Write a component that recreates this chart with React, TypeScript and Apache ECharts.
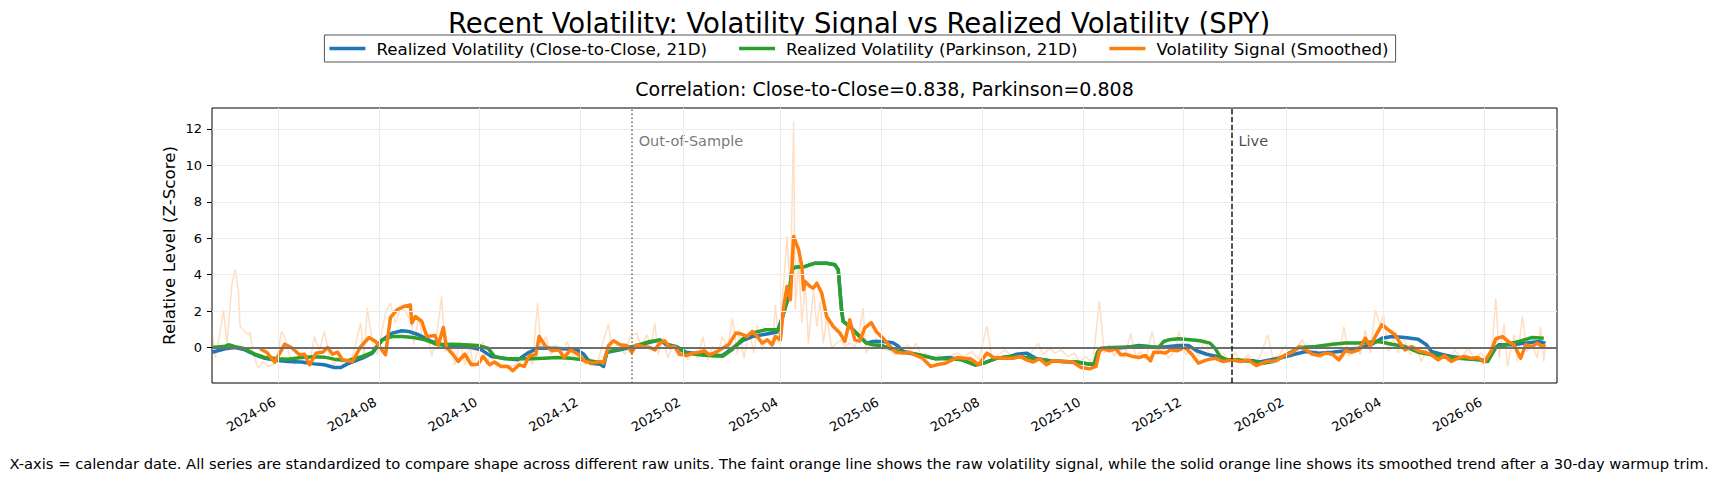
import React, { useEffect, useRef } from 'react';
import * as echarts from 'echarts';

const FONT = 'DejaVu Sans';
const BLUE = '#1f77b4';
const GREEN = '#2ca02c';
const ORANGE = '#ff7f0e';

const TITLE = 'Recent Volatility: Volatility Signal vs Realized Volatility (SPY)';
const SUBTITLE = 'Correlation: Close-to-Close=0.838, Parkinson=0.808';
const Y_LABEL = 'Relative Level (Z-Score)';
const FOOTNOTE =
  'X-axis = calendar date. All series are standardized to compare shape across different raw units. The faint orange line shows the raw volatility signal, while the solid orange line shows its smoothed trend after a 30-day warmup trim.';

const NAME_CC = 'Realized Volatility (Close-to-Close, 21D)';
const NAME_PK = 'Realized Volatility (Parkinson, 21D)';
const NAME_SM = 'Volatility Signal (Smoothed)';
const NAME_RAW = 'Volatility Signal (Raw)';

const X_MIN = '2024-04-22';
const X_MAX = '2026-07-15';
const Y_MIN = -1.95;
const Y_MAX = 13.15;

const X_TICKS = [
  '2024-06-01', '2024-08-01', '2024-10-01', '2024-12-01', '2025-02-01', '2025-04-01', '2025-06-01',
  '2025-08-01', '2025-10-01', '2025-12-01', '2026-02-01', '2026-04-01', '2026-06-01',
];
const Y_TICKS = [0, 2, 4, 6, 8, 10, 12];

const OOS_DATE = '2025-01-01';
const LIVE_DATE = '2025-12-30';
const MARK_LABEL_Y = 11.35;

// realized vol, close-to-close (z-score)
const closeToClose: [string, number][] = [
  ['2024-04-22', -0.26], ['2024-04-30', -0.07], ['2024-05-06', 0.0], ['2024-05-12', -0.13],
  ['2024-05-18', -0.4], ['2024-05-24', -0.59], ['2024-06-01', -0.71], ['2024-06-07', -0.77],
  ['2024-06-15', -0.8], ['2024-06-23', -0.9], ['2024-06-29', -0.95], ['2024-07-05', -1.1],
  ['2024-07-09', -1.1], ['2024-07-13', -0.9], ['2024-07-22', -0.59], ['2024-07-28', -0.31],
  ['2024-08-03', 0.42], ['2024-08-09', 0.79], ['2024-08-15', 0.92], ['2024-08-19', 0.88],
  ['2024-08-25', 0.7], ['2024-09-02', 0.33], ['2024-09-10', 0.11], ['2024-09-18', 0.05],
  ['2024-09-26', 0.0], ['2024-10-02', -0.13], ['2024-10-08', -0.49], ['2024-10-16', -0.59],
  ['2024-10-24', -0.68], ['2024-10-30', -0.31], ['2024-11-05', -0.04], ['2024-11-13', -0.04],
  ['2024-11-21', -0.07], ['2024-11-29', -0.13], ['2024-12-03', -0.37], ['2024-12-07', -0.86],
  ['2024-12-13', -0.92], ['2024-12-15', -1.04], ['2024-12-17', -0.26], ['2024-12-25', -0.13],
  ['2025-01-02', 0.05], ['2025-01-12', 0.29], ['2025-01-18', 0.42], ['2025-01-22', 0.15],
  ['2025-01-28', 0.05], ['2025-02-03', -0.26], ['2025-02-11', -0.37], ['2025-02-19', -0.44],
  ['2025-02-25', -0.44], ['2025-03-03', -0.04], ['2025-03-09', 0.37], ['2025-03-15', 0.6],
  ['2025-03-23', 0.73], ['2025-03-30', 0.85], ['2025-04-02', 1.61], ['2025-04-05', 2.53],
  ['2025-04-07', 3.4], ['2025-04-08', 4.3], ['2025-04-10', 4.41], ['2025-04-16', 4.45],
  ['2025-04-22', 4.63], ['2025-04-29', 4.63], ['2025-05-04', 4.54], ['2025-05-06', 4.27],
  ['2025-05-08', 2.07], ['2025-05-09', 1.43], ['2025-05-13', 1.15], ['2025-05-19', 0.6],
  ['2025-05-23', 0.24], ['2025-05-27', 0.33], ['2025-06-02', 0.33], ['2025-06-08', 0.26],
  ['2025-06-11', 0.1], ['2025-06-14', -0.2], ['2025-06-22', -0.37], ['2025-06-28', -0.49],
  ['2025-07-04', -0.62], ['2025-07-12', -0.55], ['2025-07-20', -0.68], ['2025-07-28', -0.97],
  ['2025-08-02', -0.86], ['2025-08-10', -0.59], ['2025-08-18', -0.49], ['2025-08-22', -0.37],
  ['2025-08-28', -0.31], ['2025-09-03', -0.62], ['2025-09-11', -0.73], ['2025-09-19', -0.77],
  ['2025-09-27', -0.8], ['2025-10-05', -0.92], ['2025-10-08', -0.92], ['2025-10-10', -0.26],
  ['2025-10-12', -0.07], ['2025-10-19', -0.04], ['2025-10-27', 0.0], ['2025-11-04', 0.11],
  ['2025-11-10', 0.05], ['2025-11-16', 0.0], ['2025-11-22', 0.05], ['2025-11-28', 0.11],
  ['2025-12-04', 0.11], ['2025-12-09', -0.18], ['2025-12-15', -0.37], ['2025-12-21', -0.49],
  ['2025-12-27', -0.68], ['2026-01-04', -0.73], ['2026-01-12', -0.73], ['2026-01-16', -0.8],
  ['2026-01-22', -0.68], ['2026-01-28', -0.59], ['2026-02-05', -0.4], ['2026-02-13', -0.22],
  ['2026-02-21', -0.31], ['2026-03-01', -0.26], ['2026-03-09', -0.18], ['2026-03-17', -0.04],
  ['2026-03-25', 0.18], ['2026-03-31', 0.51], ['2026-04-06', 0.6], ['2026-04-14', 0.55],
  ['2026-04-22', 0.45], ['2026-04-27', 0.15], ['2026-04-30', -0.22], ['2026-05-06', -0.37],
  ['2026-05-12', -0.49], ['2026-05-20', -0.59], ['2026-05-28', -0.64], ['2026-06-03', -0.73],
  ['2026-06-06', -0.13], ['2026-06-10', 0.15], ['2026-06-18', 0.15], ['2026-06-26', 0.24],
  ['2026-07-04', 0.33], ['2026-07-08', 0.24],
];

// realized vol, Parkinson (z-score)
const parkinson: [string, number][] = [
  ['2024-04-22', 0.0], ['2024-04-30', 0.07], ['2024-05-02', 0.15], ['2024-05-06', 0.04],
  ['2024-05-12', -0.07], ['2024-05-18', -0.37], ['2024-05-24', -0.55], ['2024-06-01', -0.62],
  ['2024-06-07', -0.64], ['2024-06-15', -0.55], ['2024-06-23', -0.51], ['2024-06-29', -0.53],
  ['2024-07-05', -0.64], ['2024-07-13', -0.73], ['2024-07-22', -0.49], ['2024-07-28', -0.27],
  ['2024-08-03', 0.42], ['2024-08-09', 0.6], ['2024-08-15', 0.6], ['2024-08-22', 0.55],
  ['2024-08-29', 0.42], ['2024-09-06', 0.15], ['2024-09-14', 0.18], ['2024-09-22', 0.15],
  ['2024-09-30', 0.11], ['2024-10-06', -0.04], ['2024-10-10', -0.49], ['2024-10-16', -0.62],
  ['2024-10-24', -0.62], ['2024-11-01', -0.62], ['2024-11-09', -0.59], ['2024-11-17', -0.55],
  ['2024-11-25', -0.59], ['2024-12-03', -0.68], ['2024-12-09', -0.77], ['2024-12-15', -0.86],
  ['2024-12-17', -0.26], ['2024-12-25', -0.07], ['2025-01-02', 0.05], ['2025-01-12', 0.33],
  ['2025-01-18', 0.4], ['2025-01-22', 0.2], ['2025-01-28', 0.02], ['2025-02-03', -0.3],
  ['2025-02-11', -0.4], ['2025-02-19', -0.46], ['2025-02-25', -0.48], ['2025-03-03', -0.1],
  ['2025-03-09', 0.45], ['2025-03-15', 0.8], ['2025-03-23', 0.97], ['2025-03-31', 0.97],
  ['2025-04-03', 1.89], ['2025-04-06', 2.8], ['2025-04-08', 4.3], ['2025-04-10', 4.41],
  ['2025-04-16', 4.45], ['2025-04-22', 4.63], ['2025-04-29', 4.63], ['2025-05-04', 4.54],
  ['2025-05-06', 4.27], ['2025-05-08', 2.07], ['2025-05-09', 1.43], ['2025-05-13', 1.15],
  ['2025-05-19', 0.6], ['2025-05-23', 0.24], ['2025-05-27', 0.15], ['2025-06-02', 0.09],
  ['2025-06-06', -0.04], ['2025-06-10', -0.18], ['2025-06-14', -0.26], ['2025-06-22', -0.37],
  ['2025-06-28', -0.49], ['2025-07-04', -0.62], ['2025-07-12', -0.6], ['2025-07-20', -0.68],
  ['2025-07-28', -0.95], ['2025-08-02', -0.86], ['2025-08-10', -0.59], ['2025-08-18', -0.49],
  ['2025-08-22', -0.49], ['2025-08-28', -0.55], ['2025-09-03', -0.62], ['2025-09-11', -0.73],
  ['2025-09-19', -0.77], ['2025-09-27', -0.8], ['2025-10-05', -0.9], ['2025-10-08', -0.9],
  ['2025-10-10', -0.26], ['2025-10-12', -0.04], ['2025-10-19', 0.0], ['2025-11-08', 0.05],
  ['2025-11-16', 0.0], ['2025-11-19', 0.33], ['2025-11-22', 0.42], ['2025-11-28', 0.48],
  ['2025-12-05', 0.42], ['2025-12-11', 0.37], ['2025-12-17', 0.24], ['2025-12-20', -0.04],
  ['2025-12-23', -0.49], ['2025-12-27', -0.68], ['2026-01-04', -0.68], ['2026-01-12', -0.77],
  ['2026-01-18', -0.86], ['2026-01-24', -0.77], ['2026-02-01', -0.4], ['2026-02-09', 0.0],
  ['2026-02-19', 0.05], ['2026-03-01', 0.18], ['2026-03-09', 0.24], ['2026-03-17', 0.24],
  ['2026-03-23', 0.29], ['2026-03-29', 0.33], ['2026-04-06', 0.18], ['2026-04-14', 0.05],
  ['2026-04-22', -0.26], ['2026-04-30', -0.4], ['2026-05-10', -0.55], ['2026-05-20', -0.62],
  ['2026-05-28', -0.68], ['2026-06-03', -0.77], ['2026-06-08', 0.0], ['2026-06-14', 0.15],
  ['2026-06-22', 0.33], ['2026-06-30', 0.55], ['2026-07-07', 0.51],
];

// volatility signal, smoothed (starts after the 30-day warmup)
const signalSmoothed: [string, number][] = [
  ['2024-05-21', -0.07], ['2024-05-25', -0.26], ['2024-05-30', -0.8], ['2024-06-05', 0.18],
  ['2024-06-09', 0.0], ['2024-06-14', -0.4], ['2024-06-17', -0.37], ['2024-06-20', -0.95],
  ['2024-06-24', -0.31], ['2024-06-28', -0.26], ['2024-07-01', 0.0], ['2024-07-04', -0.37],
  ['2024-07-07', -0.26], ['2024-07-10', -0.68], ['2024-07-16', -0.77], ['2024-07-21', 0.05],
  ['2024-07-26', 0.55], ['2024-07-30', 0.33], ['2024-08-05', -0.4], ['2024-08-08', 1.65],
  ['2024-08-12', 2.07], ['2024-08-16', 2.25], ['2024-08-20', 2.34], ['2024-08-21', 1.34],
  ['2024-08-23', 1.7], ['2024-08-27', 1.43], ['2024-08-30', 0.6], ['2024-09-04', 0.66],
  ['2024-09-06', 0.15], ['2024-09-09', 1.1], ['2024-09-11', 0.0], ['2024-09-15', -0.4],
  ['2024-09-18', -0.77], ['2024-09-22', -0.37], ['2024-09-26', -0.95], ['2024-09-30', -0.92],
  ['2024-10-03', -0.49], ['2024-10-07', -0.95], ['2024-10-10', -0.8], ['2024-10-14', -1.04],
  ['2024-10-18', -1.04], ['2024-10-21', -1.28], ['2024-10-25', -0.95], ['2024-10-28', -1.04],
  ['2024-10-31', -0.44], ['2024-11-04', -0.4], ['2024-11-06', 0.6], ['2024-11-10', 0.05],
  ['2024-11-14', -0.18], ['2024-11-18', -0.13], ['2024-11-21', -0.55], ['2024-11-25', -0.13],
  ['2024-11-30', -0.4], ['2024-12-04', -0.77], ['2024-12-08', -0.86], ['2024-12-13', -0.77],
  ['2024-12-15', -0.86], ['2024-12-18', 0.11], ['2024-12-21', 0.37], ['2024-12-25', 0.15],
  ['2024-12-29', 0.11], ['2025-01-01', -0.26], ['2025-01-04', 0.15], ['2025-01-08', 0.05],
  ['2025-01-12', 0.0], ['2025-01-15', -0.13], ['2025-01-18', 0.24], ['2025-01-21', 0.37],
  ['2025-01-24', 0.0], ['2025-01-27', 0.05], ['2025-01-30', -0.37], ['2025-02-03', -0.44],
  ['2025-02-07', -0.31], ['2025-02-11', -0.26], ['2025-02-14', -0.18], ['2025-02-17', -0.4],
  ['2025-02-21', -0.26], ['2025-02-25', -0.04], ['2025-03-01', 0.18], ['2025-03-05', 0.79],
  ['2025-03-08', 0.75], ['2025-03-12', 0.6], ['2025-03-15', 0.88], ['2025-03-18', 0.6],
  ['2025-03-21', 0.24], ['2025-03-24', 0.42], ['2025-03-27', 0.15], ['2025-03-29', 0.6],
  ['2025-04-01', 0.42], ['2025-04-03', 2.25], ['2025-04-05', 3.35], ['2025-04-07', 2.62],
  ['2025-04-09', 6.1], ['2025-04-12', 5.37], ['2025-04-14', 4.45], ['2025-04-15', 3.17],
  ['2025-04-16', 3.63], ['2025-04-19', 3.35], ['2025-04-21', 3.26], ['2025-04-23', 3.53],
  ['2025-04-26', 2.99], ['2025-04-29', 1.7], ['2025-05-03', 1.15], ['2025-05-07', 0.79],
  ['2025-05-10', 0.33], ['2025-05-13', 1.52], ['2025-05-16', 0.42], ['2025-05-19', 0.35],
  ['2025-05-22', 1.06], ['2025-05-26', 1.37], ['2025-05-29', 0.88], ['2025-06-02', 0.51],
  ['2025-06-06', 0.1], ['2025-06-10', -0.26], ['2025-06-14', -0.31], ['2025-06-18', -0.26],
  ['2025-06-22', -0.44], ['2025-06-26', -0.59], ['2025-07-01', -1.04], ['2025-07-06', -0.92],
  ['2025-07-10', -0.86], ['2025-07-14', -0.68], ['2025-07-17', -0.55], ['2025-07-21', -0.59],
  ['2025-07-25', -0.62], ['2025-07-30', -0.95], ['2025-08-04', -0.31], ['2025-08-08', -0.55],
  ['2025-08-14', -0.59], ['2025-08-20', -0.59], ['2025-08-24', -0.49], ['2025-08-28', -0.68],
  ['2025-09-01', -0.8], ['2025-09-05', -0.62], ['2025-09-09', -0.95], ['2025-09-13', -0.73],
  ['2025-09-19', -0.77], ['2025-09-25', -0.8], ['2025-09-30', -1.1], ['2025-10-05', -1.17],
  ['2025-10-09', -1.04], ['2025-10-11', -0.26], ['2025-10-13', -0.04], ['2025-10-17', -0.18],
  ['2025-10-21', -0.07], ['2025-10-24', -0.4], ['2025-10-27', -0.37], ['2025-10-31', -0.49],
  ['2025-11-04', -0.55], ['2025-11-08', -0.44], ['2025-11-11', -0.73], ['2025-11-13', -0.26],
  ['2025-11-17', -0.26], ['2025-11-20', -0.31], ['2025-11-23', -0.13], ['2025-11-27', -0.18],
  ['2025-12-02', 0.0], ['2025-12-06', -0.37], ['2025-12-10', -0.86], ['2025-12-15', -0.68],
  ['2025-12-20', -0.59], ['2025-12-25', -0.77], ['2025-12-31', -0.68], ['2026-01-05', -0.77],
  ['2026-01-09', -0.68], ['2026-01-14', -0.99], ['2026-01-20', -0.77], ['2026-01-26', -0.73],
  ['2026-02-01', -0.4], ['2026-02-05', -0.26], ['2026-02-09', 0.05], ['2026-02-13', -0.13],
  ['2026-02-17', -0.37], ['2026-02-21', -0.44], ['2026-02-25', -0.31], ['2026-03-01', -0.37],
  ['2026-03-05', -0.68], ['2026-03-09', -0.18], ['2026-03-13', -0.26], ['2026-03-17', -0.13],
  ['2026-03-21', 0.51], ['2026-03-24', 0.05], ['2026-03-27', 0.6], ['2026-03-31', 1.25],
  ['2026-04-04', 0.97], ['2026-04-08', 0.7], ['2026-04-11', 0.24], ['2026-04-14', -0.13],
  ['2026-04-18', 0.05], ['2026-04-22', -0.18], ['2026-04-26', -0.26], ['2026-04-30', -0.4],
  ['2026-05-04', -0.68], ['2026-05-08', -0.44], ['2026-05-12', -0.77], ['2026-05-16', -0.59],
  ['2026-05-20', -0.49], ['2026-05-24', -0.59], ['2026-05-28', -0.55], ['2026-06-01', -0.8],
  ['2026-06-05', -0.22], ['2026-06-08', 0.48], ['2026-06-12', 0.6], ['2026-06-16', 0.29],
  ['2026-06-19', 0.15], ['2026-06-23', -0.59], ['2026-06-26', 0.15], ['2026-06-30', 0.05],
  ['2026-07-03', 0.24], ['2026-07-06', 0.05], ['2026-07-08', 0.15],
];

// volatility signal, raw (faint line)
const signalRaw: [string, number][] = [
  ['2024-04-22', 0.97], ['2024-04-24', -0.59], ['2024-04-27', 0.88], ['2024-04-29', 2.07],
  ['2024-05-01', 0.15], ['2024-05-04', 3.44], ['2024-05-06', 4.27], ['2024-05-08', 3.08],
  ['2024-05-09', 1.15], ['2024-05-12', 0.88], ['2024-05-14', 0.7], ['2024-05-15', 0.84],
  ['2024-05-17', -0.4], ['2024-05-20', -1.14], ['2024-05-23', -0.77], ['2024-05-26', -1.04],
  ['2024-05-29', -0.95], ['2024-06-01', -0.31], ['2024-06-03', 0.88], ['2024-06-05', 0.6],
  ['2024-06-08', -0.49], ['2024-06-11', -0.95], ['2024-06-14', -0.31], ['2024-06-17', -0.95],
  ['2024-06-21', -0.4], ['2024-06-23', 0.6], ['2024-06-26', -0.22], ['2024-06-29', 0.88],
  ['2024-07-02', -0.4], ['2024-07-05', -0.95], ['2024-07-08', -0.4], ['2024-07-11', -1.04],
  ['2024-07-16', -0.49], ['2024-07-21', 1.34], ['2024-07-23', -0.59], ['2024-07-25', 2.16],
  ['2024-07-28', 0.33], ['2024-07-31', -0.4], ['2024-08-02', 0.51], ['2024-08-05', 1.89],
  ['2024-08-08', 2.44], ['2024-08-11', 1.34], ['2024-08-14', 2.16], ['2024-08-17', 1.98],
  ['2024-08-21', 1.34], ['2024-08-22', 0.15], ['2024-08-25', 1.61], ['2024-08-28', 0.33],
  ['2024-08-30', 0.88], ['2024-09-02', -0.49], ['2024-09-05', 0.7], ['2024-09-08', 2.8],
  ['2024-09-10', -0.22], ['2024-09-13', 0.15], ['2024-09-16', -0.95], ['2024-09-19', 0.33],
  ['2024-09-22', -0.95], ['2024-09-25', 0.15], ['2024-09-27', -0.95], ['2024-09-30', -0.22],
  ['2024-10-03', 0.33], ['2024-10-05', -0.95], ['2024-10-08', -0.4], ['2024-10-11', -1.04],
  ['2024-10-16', -0.95], ['2024-10-21', -1.04], ['2024-10-26', -0.77], ['2024-10-30', -0.49],
  ['2024-11-02', -0.95], ['2024-11-05', 2.44], ['2024-11-07', -0.04], ['2024-11-10', 0.6],
  ['2024-11-13', -0.4], ['2024-11-16', 0.15], ['2024-11-20', -0.4], ['2024-11-23', 0.33],
  ['2024-11-26', -0.4], ['2024-11-30', -0.59], ['2024-12-04', -0.95], ['2024-12-07', -0.59],
  ['2024-12-11', -0.95], ['2024-12-15', 0.42], ['2024-12-18', 1.28], ['2024-12-20', -0.22],
  ['2024-12-24', 0.24], ['2024-12-28', -0.4], ['2024-12-31', 0.6], ['2025-01-04', 0.79],
  ['2025-01-07', -0.04], ['2025-01-10', 0.7], ['2025-01-13', 0.15], ['2025-01-15', 1.34],
  ['2025-01-17', -0.4], ['2025-01-20', 0.51], ['2025-01-23', -0.59], ['2025-01-26', 0.15],
  ['2025-01-29', -0.49], ['2025-02-01', -0.04], ['2025-02-04', -0.68], ['2025-02-07', -0.22],
  ['2025-02-10', -0.59], ['2025-02-13', 0.6], ['2025-02-16', -0.68], ['2025-02-19', 0.05],
  ['2025-02-22', -0.4], ['2025-02-25', 0.6], ['2025-02-28', -0.04], ['2025-03-03', 1.61],
  ['2025-03-06', -0.4], ['2025-03-07', 0.97], ['2025-03-10', -0.59], ['2025-03-13', 0.88],
  ['2025-03-16', -0.31], ['2025-03-18', 1.25], ['2025-03-21', -0.13], ['2025-03-24', 0.51],
  ['2025-03-27', -0.04], ['2025-03-29', 2.34], ['2025-03-31', 0.24], ['2025-04-03', 3.53],
  ['2025-04-05', 6.1], ['2025-04-07', 2.8], ['2025-04-09', 12.4], ['2025-04-10', 2.07],
  ['2025-04-12', 4.8], ['2025-04-14', 1.34], ['2025-04-16', 3.53], ['2025-04-18', 0.24],
  ['2025-04-21', 3.17], ['2025-04-23', 1.15], ['2025-04-25', 2.53], ['2025-04-27', 0.24],
  ['2025-04-29', 1.7], ['2025-05-02', 0.0], ['2025-05-05', 0.24], ['2025-05-08', 0.42],
  ['2025-05-10', 0.05], ['2025-05-13', 0.24], ['2025-05-16', 0.05], ['2025-05-18', 0.42],
  ['2025-05-21', 2.16], ['2025-05-23', -0.31], ['2025-05-26', 0.24], ['2025-05-29', 0.5],
  ['2025-06-02', -0.1], ['2025-06-06', -0.18], ['2025-06-10', -0.4], ['2025-06-14', -0.13],
  ['2025-06-17', 0.15], ['2025-06-20', -0.1], ['2025-06-22', 0.24], ['2025-06-25', -0.4],
  ['2025-06-28', -0.31], ['2025-07-02', -0.68], ['2025-07-06', -0.4], ['2025-07-10', -0.77],
  ['2025-07-14', -0.4], ['2025-07-17', -0.31], ['2025-07-21', -0.49], ['2025-07-26', -0.22],
  ['2025-07-30', -0.68], ['2025-08-04', 1.15], ['2025-08-07', -0.59], ['2025-08-11', -0.4],
  ['2025-08-15', -0.13], ['2025-08-19', -0.49], ['2025-08-23', -0.31], ['2025-08-28', -0.59],
  ['2025-09-01', -0.13], ['2025-09-04', 0.24], ['2025-09-07', -0.4], ['2025-09-11', -0.04],
  ['2025-09-14', -0.31], ['2025-09-18', -0.13], ['2025-09-22', -0.49], ['2025-09-26', -0.31],
  ['2025-09-29', -0.77], ['2025-10-03', -0.49], ['2025-10-07', -0.95], ['2025-10-11', 2.53],
  ['2025-10-14', -0.31], ['2025-10-17', 0.15], ['2025-10-20', -0.49], ['2025-10-23', -0.04],
  ['2025-10-26', -0.59], ['2025-10-30', 0.79], ['2025-11-02', -0.49], ['2025-11-05', -0.22],
  ['2025-11-08', -0.68], ['2025-11-12', 0.88], ['2025-11-15', -0.4], ['2025-11-19', -0.04],
  ['2025-11-22', -0.59], ['2025-11-26', -0.13], ['2025-11-28', 0.88], ['2025-12-02', -0.4],
  ['2025-12-06', 0.05], ['2025-12-10', -0.49], ['2025-12-14', 0.51], ['2025-12-17', -0.68],
  ['2025-12-21', -0.4], ['2025-12-25', -0.31], ['2025-12-29', -0.77], ['2026-01-01', -0.26],
  ['2026-01-05', -0.77], ['2026-01-09', -0.4], ['2026-01-14', -0.86], ['2026-01-17', -0.31],
  ['2026-01-21', 0.7], ['2026-01-24', -0.59], ['2026-01-28', -0.4], ['2026-02-01', 0.15],
  ['2026-02-04', -0.59], ['2026-02-07', -0.04], ['2026-02-11', 0.42], ['2026-02-14', -0.22],
  ['2026-02-18', 0.05], ['2026-02-22', -0.59], ['2026-02-26', -0.13], ['2026-03-02', 0.33],
  ['2026-03-05', -0.68], ['2026-03-08', 1.15], ['2026-03-11', -0.49], ['2026-03-15', 0.24],
  ['2026-03-18', -0.4], ['2026-03-21', 0.97], ['2026-03-24', -0.31], ['2026-03-27', 2.07],
  ['2026-03-30', 1.25], ['2026-04-01', 1.8], ['2026-04-04', -0.22], ['2026-04-07', 0.51],
  ['2026-04-10', -0.31], ['2026-04-13', 0.6], ['2026-04-17', -0.4], ['2026-04-21', -0.04],
  ['2026-04-24', -0.77], ['2026-04-28', 0.15], ['2026-05-02', -0.49], ['2026-05-06', -0.31],
  ['2026-05-10', -0.77], ['2026-05-14', -0.13], ['2026-05-18', -0.59], ['2026-05-22', -0.04],
  ['2026-05-26', -0.59], ['2026-05-30', -0.31], ['2026-06-03', -0.77], ['2026-06-06', 0.33],
  ['2026-06-08', 2.71], ['2026-06-10', -0.59], ['2026-06-13', 1.25], ['2026-06-15', -1.04],
  ['2026-06-19', 0.7], ['2026-06-21', -0.77], ['2026-06-24', 1.7], ['2026-06-27', -0.22],
  ['2026-06-30', 0.15], ['2026-07-03', -0.59], ['2026-07-05', 1.15], ['2026-07-07', -0.77],
  ['2026-07-08', 0.05],
];

const ts = (s: string) => {
  const [y, m, d] = s.split('-').map(Number);
  return new Date(y, m - 1, d).getTime();
};

const toSeries = (pts: [string, number][]) => pts.map(([d, v]) => [ts(d), v]);

const monthLabel = (v: number) => {
  const d = new Date(v);
  return `${d.getFullYear()}-${String(d.getMonth() + 1).padStart(2, '0')}`;
};

const xTickValues = X_TICKS.map(ts);

const gridLineStyle = { color: '#ececec', width: 1, type: 'solid' };

const option: any = {
  animation: false,
  backgroundColor: '#ffffff',
  textStyle: { fontFamily: FONT },
  legend: {
    data: [NAME_CC, NAME_PK, NAME_SM],
    left: 'center',
    top: 35,
    icon: 'rect',
    itemWidth: 36,
    itemHeight: 3.5,
    itemGap: 32,
    padding: [5, 7, 5, 5],
    borderColor: '#555555',
    borderWidth: 1,
    borderRadius: 0,
    backgroundColor: '#ffffff',
    textStyle: { fontFamily: FONT, fontSize: 16.7, color: '#000', padding: [0, 0, 0, 6] },
  },
  grid: {
    left: 212,
    top: 108,
    width: 1345,
    height: 275,
    show: true,
    borderColor: '#000',
    borderWidth: 1,
    backgroundColor: 'transparent',
  },
  xAxis: {
    type: 'value',
    min: ts(X_MIN),
    max: ts(X_MAX),
    splitLine: { show: false },
    axisLine: { show: false },
    axisTick: { show: true, length: 5, lineStyle: { color: '#000' }, customValues: xTickValues },
    axisLabel: {
      customValues: xTickValues,
      formatter: monthLabel,
      rotate: 30,
      margin: 16,
      fontSize: 13,
      fontFamily: FONT,
      color: '#000',
      padding: [0, 4, 0, 0],
    },
  },
  yAxis: {
    type: 'value',
    min: Y_MIN,
    max: Y_MAX,
    splitLine: { show: false },
    axisLine: { show: false },
    axisTick: { show: true, length: 5, lineStyle: { color: '#000' }, customValues: Y_TICKS },
    axisLabel: { customValues: Y_TICKS, margin: 10, fontSize: 13, fontFamily: FONT, color: '#000' },
  },
  graphic: [
    {
      type: 'text',
      x: 859,
      y: 23,
      style: { text: TITLE, fontSize: 27.5, fontFamily: FONT, fill: '#000', align: 'center', verticalAlign: 'middle' },
    },
    {
      type: 'text',
      x: 884.5,
      y: 88.7,
      style: { text: SUBTITLE, fontSize: 19, fontFamily: FONT, fill: '#000', align: 'center', verticalAlign: 'middle' },
    },
    {
      type: 'text',
      x: 169,
      y: 245.5,
      rotation: Math.PI / 2,
      style: { text: Y_LABEL, fontSize: 16.7, fontFamily: FONT, fill: '#000', align: 'center', verticalAlign: 'middle' },
    },
    {
      type: 'text',
      x: 859,
      y: 463,
      style: { text: FOOTNOTE, fontSize: 14.7, fontFamily: FONT, fill: '#000', align: 'center', verticalAlign: 'middle' },
    },
  ],
  series: [
    {
      // grid lines
      type: 'line',
      name: 'grid',
      data: [],
      silent: true,
      markLine: {
        silent: true,
        symbol: 'none',
        label: { show: false },
        lineStyle: gridLineStyle,
        data: [...xTickValues.map((v) => ({ xAxis: v })), ...Y_TICKS.map((v) => ({ yAxis: v }))],
      },
    },
    {
      type: 'line',
      name: NAME_RAW,
      data: toSeries(signalRaw),
      showSymbol: false,
      symbol: 'none',
      color: ORANGE,
      lineStyle: { color: 'rgba(255,127,14,0.25)', width: 1.5 },
      emphasis: { disabled: true },
      markLine: {
        silent: true,
        symbol: 'none',
        label: { show: false },
        lineStyle: { color: '#6e6e6e', width: 2, type: 'solid' },
        data: [{ yAxis: 0 }],
      },
    },
    {
      type: 'line',
      name: NAME_CC,
      data: toSeries(closeToClose),
      showSymbol: false,
      symbol: 'none',
      color: BLUE,
      lineStyle: { width: 3.5, join: 'round' },
      emphasis: { disabled: true },
    },
    {
      type: 'line',
      name: NAME_PK,
      data: toSeries(parkinson),
      showSymbol: false,
      symbol: 'none',
      color: GREEN,
      lineStyle: { width: 3.5, join: 'round' },
      emphasis: { disabled: true },
    },
    {
      type: 'line',
      name: NAME_SM,
      data: toSeries(signalSmoothed),
      showSymbol: false,
      symbol: 'none',
      color: ORANGE,
      lineStyle: { width: 3.5, join: 'round' },
      emphasis: { disabled: true },
      markLine: {
        silent: true,
        symbol: 'none',
        label: { show: false },
        data: [
          { xAxis: ts(OOS_DATE), lineStyle: { color: '#666666', width: 1.5, type: [1.5, 2.5] } },
          { xAxis: ts(LIVE_DATE), lineStyle: { color: '#1a1a1a', width: 1.5, type: [5.5, 2.4] } },
        ],
      },
    },
    {
      type: 'scatter',
      name: 'labels',
      silent: true,
      symbolSize: 0,
      data: [
        { value: [ts(OOS_DATE), MARK_LABEL_Y], label: { formatter: 'Out-of-Sample', color: '#555555' } },
        { value: [ts(LIVE_DATE), MARK_LABEL_Y], label: { formatter: 'Live', color: '#1a1a1a' } },
      ],
      label: { show: true, position: 'right', distance: 7, fontSize: 14.5, fontFamily: FONT },
    },
  ],
};

const VolatilityChart = (): JSX.Element => {
  const divEL = useRef<HTMLDivElement>(null);

  useEffect(() => {
    document.body.style.margin = '0';
    const instance = echarts.init(divEL.current as any, null, { renderer: 'svg' });
    instance.setOption(option);
    return () => {
      instance.dispose();
    };
  }, []);

  return <div ref={divEL} style={{ width: 1718, height: 481 }}></div>;
};

export default function App() {
  return <VolatilityChart />;
}
